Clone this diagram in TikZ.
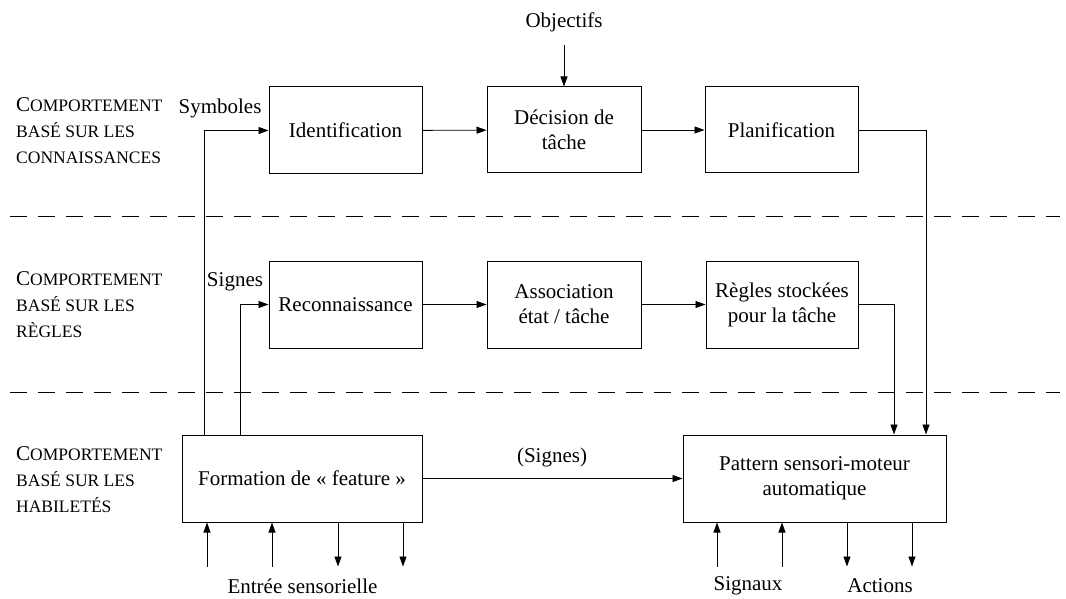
\documentclass[tikz,border=0pt]{standalone}
\usepackage{fontspec}
\setmainfont{Liberation Serif}
\usetikzlibrary{arrows.meta,calc,positioning}

\newcommand{\bigsc}[1]{{\fontsize{21}{26}\selectfont #1}}

\tikzset{
  box/.style={draw, line width=1pt, minimum width=#1, inner sep=0pt, align=center},
  arr/.style={line width=0.9pt, -{Triangle[length=10pt,width=7pt]}},
  lvl/.style={anchor=west, align=left, inner sep=0pt, font=\rmfamily\fontsize{17.5}{26}\selectfont},
  sep/.style={line width=1pt, dash pattern=on 17pt off 11pt}
}

\begin{document}
\begin{tikzpicture}[x=1pt,y=-1pt,font=\rmfamily\fontsize{21}{25}\selectfont]
  \useasboundingbox (0,0) rectangle (1066,599);
  % niveaux
  \node[lvl] (lk) at (16,131) {\bigsc{C}OMPORTEMENT\\BASÉ SUR LES\\CONNAISSANCES};
  \node[lvl] (lr) at (16,305) {\bigsc{C}OMPORTEMENT\\BASÉ SUR LES\\RÈGLES};
  \node[lvl] (lh) at (16,480) {\bigsc{C}OMPORTEMENT\\BASÉ SUR LES\\HABILETÉS};
  \draw[sep] (10,216) -- (1060,216);
  \draw[sep] (10,392) -- (1060,392);
  % blocs
  \node[box=153pt, minimum height=87pt] (ident) at (345.5,130.5) {Identification};
  \node[box=154pt, minimum height=86pt] (dec) at (564,130) {Décision de\\tâche};
  \node[box=153pt, minimum height=86pt] (plan) at (781.5,130) {Planification};
  \node[box=153pt, minimum height=87pt] (recon) at (345.5,304.5) {Reconnaissance};
  \node[box=154pt, minimum height=87pt] (assoc) at (564,304.5) {Association\\état / tâche};
  \node[box=152pt, minimum height=87pt] (regles) at (782,304.5) {Règles stockées\\pour la tâche};
  \node[box=240pt, minimum height=87pt] (form) at (302,478.5) {Formation de « feature »};
  \node[box=263pt, minimum height=87pt] (patt) at (814.5,478.5) {Pattern sensori-moteur\\automatique};
  % textes
  \node (obj) at (564,22) {Objectifs};
  \node (symb) at (220,108) {Symboles};
  \node (sign) at (235,282) {Signes};
  \node (signp) at (552,457) {(Signes)};
  \node (entree) at (302.5,586) {Entrée sensorielle};
  \node (signaux) at (748,586) {Signaux};
  \node (actions) at (880,586) {Actions};
  % liaisons
  \draw[arr] ([yshift=-10pt]obj.south) -- (dec.north);
  \draw[arr] (ident) -- (dec);
  \draw[arr] (dec) -- (plan);
  \draw[arr] (recon) -- (assoc);
  \draw[arr] (assoc) -- (regles);
  \draw[arr] (form) -- (patt);
  \draw[arr] ([xshift=-98pt]form.north) |- (ident.west);
  \draw[arr] ([xshift=-62pt]form.north) |- (recon.west);
  \draw[arr] (plan.east) -| ([xshift=111.5pt]patt.north);
  \draw[arr] (regles.east) -| ([xshift=79.5pt]patt.north);
  % entrees / sorties
  \foreach \dx in {-95,-30} \draw[arr] ([xshift=\dx pt,yshift=-44pt]form.south) -- ([xshift=\dx pt]form.south);
  \foreach \dx in {36,101} \draw[arr] ([xshift=\dx pt]form.south) -- ([xshift=\dx pt,yshift=-44pt]form.south);
  \foreach \dx in {-97.5,-32.5} \draw[arr] ([xshift=\dx pt,yshift=-44pt]patt.south) -- ([xshift=\dx pt]patt.south);
  \foreach \dx in {32.5,97.5} \draw[arr] ([xshift=\dx pt]patt.south) -- ([xshift=\dx pt,yshift=-44pt]patt.south);
\end{tikzpicture}
\end{document}
